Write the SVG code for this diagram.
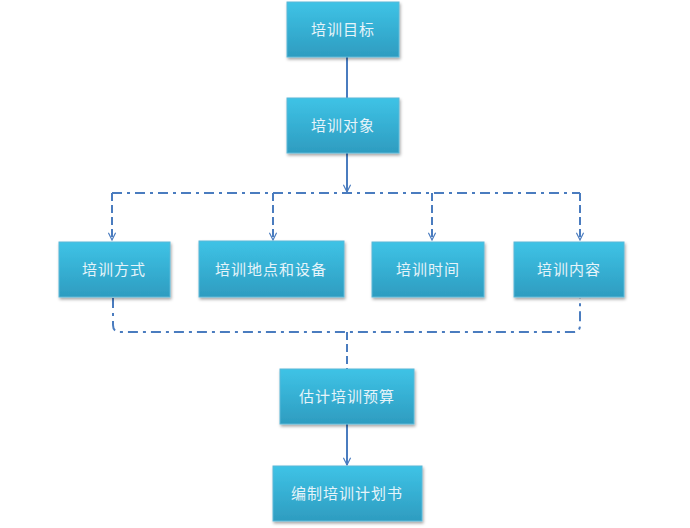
<svg xmlns="http://www.w3.org/2000/svg" width="690" height="528" viewBox="0 0 690 528">
<defs>
<linearGradient id="g" x1="0" y1="0" x2="0" y2="1"><stop offset="0" stop-color="#3ec3e6"/><stop offset="1" stop-color="#2e9cc0"/></linearGradient>
<filter id="sh" x="-10%" y="-10%" width="125%" height="130%"><feDropShadow dx="1" dy="2" stdDeviation="1.5" flood-color="#000" flood-opacity="0.35"/></filter>
<marker id="a" viewBox="0 0 10 10" refX="9" refY="5" markerWidth="9" markerHeight="9" orient="auto" markerUnits="userSpaceOnUse"><path d="M1,1 L9,5 L1,9" fill="none" stroke="#4a7cbf" stroke-width="1.3"/></marker>
</defs>
<style>
rect{fill:url(#g);stroke:#5bb8d8;stroke-width:1;filter:url(#sh)}
text{font-family:"Noto Sans CJK SC",sans-serif;font-size:15px;fill:#e6f4fa;text-anchor:middle;letter-spacing:1px}
.s{fill:none;stroke:#4a7cbf;stroke-width:2}
.d{fill:none;stroke:#4a7cbf;stroke-width:2;stroke-dasharray:10 5 3 5}
.v{fill:none;stroke:#4a7cbf;stroke-width:2;stroke-dasharray:8 4}
</style>
<g id="connectors">
<path class="s" d="M347,57 V98"/>
<path class="s" d="M347,153 V192" marker-end="url(#a)"/>
<path class="d" d="M112,193 H580"/>
<path class="v" d="M112,193 V240" marker-end="url(#a)"/>
<path class="v" d="M273,193 V240" marker-end="url(#a)"/>
<path class="v" d="M432,193 V240" marker-end="url(#a)"/>
<path class="v" d="M580,193 V240" marker-end="url(#a)"/>
<path class="d" d="M113,298 V325 Q113,332 120,332 H574 Q580,332 580,325 V298"/>
<path class="v" d="M347,332 V369"/>
<path class="s" d="M347,424 V465" marker-end="url(#a)"/>
</g>
<g id="n1"><rect x="287" y="2" width="112" height="55"/><text x="343" y="35">培训目标</text></g>
<g id="n2"><rect x="287" y="98" width="112" height="55"/><text x="343" y="131">培训对象</text></g>
<g id="n3"><rect x="59" y="242" width="111" height="55"/><text x="114" y="275">培训方式</text></g>
<g id="n4"><rect x="199" y="241" width="145" height="56"/><text x="271" y="275">培训地点和设备</text></g>
<g id="n5"><rect x="372" y="242" width="112" height="55"/><text x="428" y="275">培训时间</text></g>
<g id="n6"><rect x="514" y="242" width="110" height="55"/><text x="569" y="275">培训内容</text></g>
<g id="n7"><rect x="280" y="369" width="134" height="55"/><text x="347" y="402">估计培训预算</text></g>
<g id="n8"><rect x="273" y="466" width="149" height="55"/><text x="347" y="499">编制培训计划书</text></g>
</svg>
